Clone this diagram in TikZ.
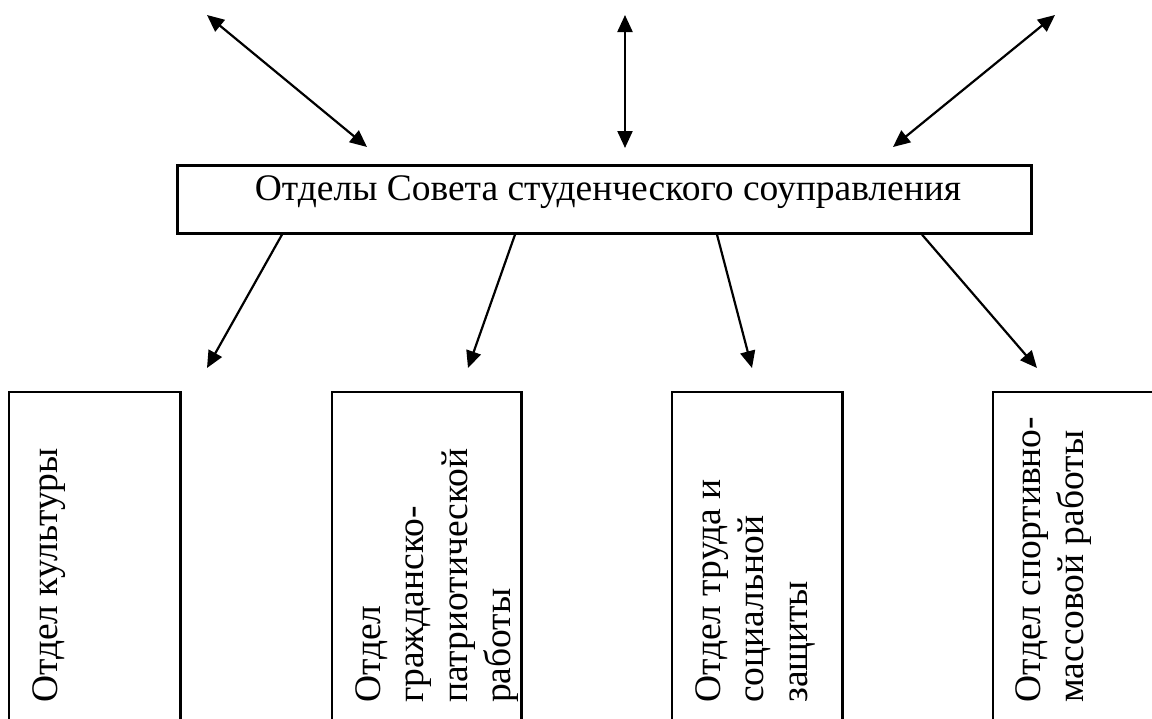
\documentclass[tikz,border=0pt]{standalone}
\usepackage{fontspec}
\setmainfont{Liberation Serif}
\usetikzlibrary{arrows.meta,calc}
\begin{document}
\begin{tikzpicture}[x=1pt,y=-1pt,
  boxline/.style={line width=2.6pt},
  conn/.style={line width=2.2pt, -{Triangle[length=17pt,width=15pt]}},
  biconn/.style={line width=2.2pt, {Triangle[length=17pt,width=15pt]}-{Triangle[length=17pt,width=15pt]}},
  txt/.style={font=\fontsize{37.5}{43.5}\selectfont, inner sep=0pt},
  vtxt/.style={txt, rotate=90, anchor=north west, align=left},
  deptframe/.style={minimum width=#1, minimum height=332pt, inner sep=0pt, anchor=north west},
]
\useasboundingbox (0,0) rectangle (1152,718);

% central box
\node[draw, boxline, minimum width=854pt, minimum height=68pt, inner sep=0pt, anchor=north west] (cbox) at (176,164) {};
\node[txt, anchor=base] (ctitle) at (608,200) {Отделы Совета студенческого соуправления};

% top free ends
\coordinate (tl1) at (207,15);
\coordinate (tl2) at (367,147);
\coordinate (tm1) at (625,15);
\coordinate (tm2) at (625,148);
\coordinate (tr1) at (1055,15);
\coordinate (tr2) at (893,147);
\draw[biconn] (tl1) -- (tl2);
\draw[biconn] (tm1) -- (tm2);
\draw[biconn] (tr1) -- (tr2);

% bottom department boxes (open at the bottom)
\node[deptframe=171pt] (b1) at (9,392) {};
\node[deptframe=189pt] (b2) at (332,392) {};
\node[deptframe=170pt] (b3) at (672,392) {};
\node[deptframe=175pt] (b4) at (993,392) {};
\foreach \b in {b1,b2,b3,b4}{
  \draw[boxline] (\b.south west) -- (\b.north west) -- (\b.north east) -- (\b.south east);
}

% arrow tips
\coordinate (e1) at (207,368);
\coordinate (e2) at (468,368);
\coordinate (e3) at (752,368);
\coordinate (e4) at (1037,368);
\draw[conn] ($(cbox.south west)+(106,0)$) -- (e1);
\draw[conn] ($(cbox.south west)+(339,0)$) -- (e2);
\draw[conn] ($(cbox.south west)+(541,0)$) -- (e3);
\draw[conn] ($(cbox.south west)+(746,0)$) -- (e4);

% vertical texts
\node[vtxt] (t1) at (32,703) {Отдел культуры};
\node[vtxt] (t2) at (355,703) {Отдел\\гражданско-\\патриотической\\работы};
\node[vtxt] (t3) at (695,703) {Отдел труда и\\социальной\\защиты};
\node[vtxt] (t4) at (1015,703) {Отдел спортивно-\\массовой работы};
\end{tikzpicture}
\end{document}
